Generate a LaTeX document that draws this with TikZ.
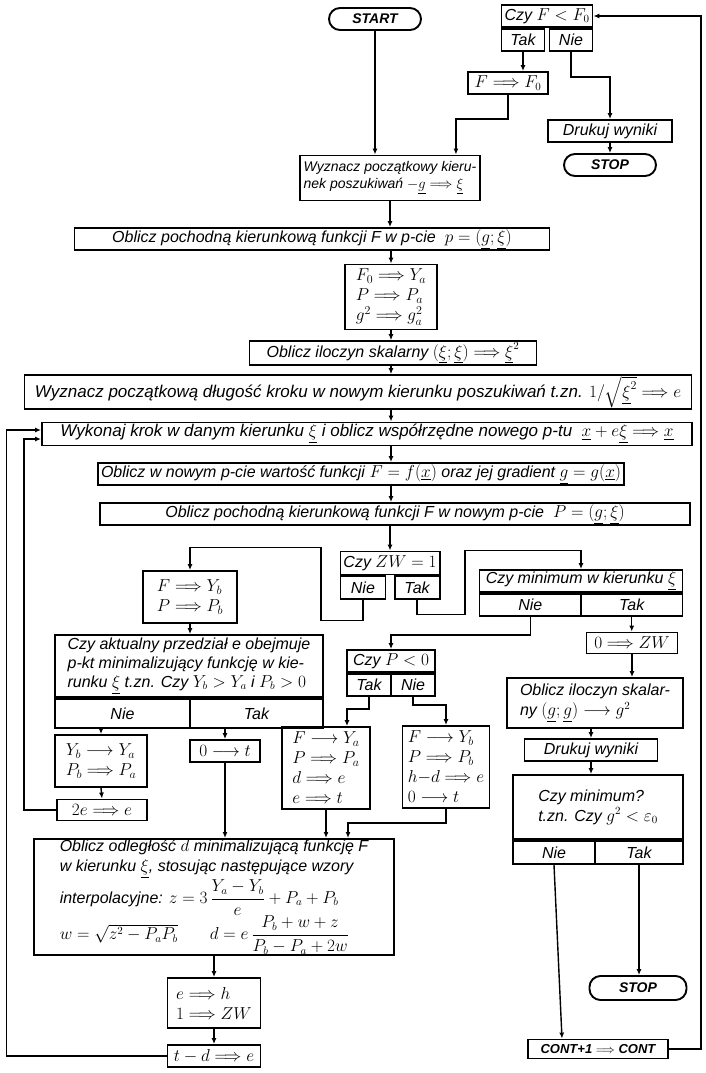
\documentclass[tikz,border=0pt]{standalone}
\usepackage{fontspec}
\setmainfont{Liberation Sans}
\usepackage{amsmath}
\usetikzlibrary{arrows.meta}

\begin{document}
\begin{tikzpicture}[x=1pt, y=-1pt,
    blok/.style={draw, line width=1.9pt, inner xsep=3pt, inner ysep=1pt, align=left,
        font=\itshape\fontsize{16}{18}\selectfont},
    kom/.style={blok, align=center},
    wiele/.style={blok, font=\itshape\fontsize{17}{20}\selectfont},
    term/.style={draw, line width=1.9pt, rounded corners=11pt, minimum height=22pt, inner sep=1pt,
        font=\itshape\bfseries\fontsize{14}{16}\selectfont},
    pol/.style={line width=1.4pt, -{Latex[length=6pt,width=5pt]}}]
    \useasboundingbox (0,0) rectangle (706,1073);

    % start i test F < F0
    \node[term, minimum width=92pt] (start) at (375,19) {START};
    \node[kom, minimum width=86pt, minimum height=22pt] (czyF) at (547,16) {Czy $F<F_0$};
    \node[kom, minimum width=43pt, minimum height=22pt, anchor=north west] (czyFtak) at (czyF.south west) {Tak};
    \node[kom, minimum width=43pt, minimum height=22pt, anchor=north east] (czyFnie) at (czyF.south east) {Nie};
    \node[blok, minimum width=80pt, minimum height=22pt] (ff0) at (508,83) {$F\Longrightarrow F_0$};
    \node[blok, minimum width=124pt, minimum height=22pt] (druk1) at (610,131) {Drukuj wyniki};
    \node[term, minimum width=92pt] (stop1) at (610,165) {STOP};

    % glowny pion
    \node[blok, minimum width=180pt, minimum height=45pt, font=\itshape\fontsize{14}{17}\selectfont] (wyzn1) at (390,178)
        {Wyznacz początkowy kieru-\\nek poszukiwań $-\underline{g}\Longrightarrow\underline{\xi}$};
    \node[blok, minimum width=475pt, minimum height=22pt] (obl1) at (312,239)
        {Oblicz pochodną kierunkową funkcji F w p-cie \ $p=(\underline{g};\underline{\xi})$};
    \node[wiele, minimum width=92pt, minimum height=65pt] (f0ya) at (391,297)
        {$F_0\Longrightarrow Y_a$\\$P\Longrightarrow P_a$\\$g^2\Longrightarrow g^2_a$};
    \node[blok, minimum width=287pt, minimum height=21pt] (ilo1) at (393,353)
        {Oblicz iloczyn skalarny $(\underline{\xi};\underline{\xi})\Longrightarrow\underline{\xi}^2$};
    \node[blok, minimum width=667pt, minimum height=22pt, font=\itshape\fontsize{17}{19}\selectfont] (wyzn2) at (358,392)
        {Wyznacz początkową długość kroku w nowym kierunku poszukiwań t.zn. $1/\sqrt{\underline{\xi}^2}\Longrightarrow e$};
    \node[blok, minimum width=650pt, minimum height=23pt, font=\itshape\fontsize{17}{19}\selectfont] (wyk) at (367,434)
        {Wykonaj krok w danym kierunku $\underline{\xi}$ i oblicz współrzędne nowego p-tu \ $\underline{x}+e\underline{\xi}\Longrightarrow\underline{x}$};
    \node[blok, minimum width=522pt, minimum height=22pt] (obl2) at (361,474)
        {Oblicz w nowym p-cie wartość funkcji $F=f(\underline{x})$ oraz jej gradient $\underline{g}=g(\underline{x})$};
    \node[blok, minimum width=590pt, minimum height=22pt] (obl3) at (395,514)
        {Oblicz pochodną kierunkową funkcji F w nowym p-cie \ $P=(\underline{g};\underline{\xi})$};

    % test ZW = 1
    \node[kom, minimum width=90pt, minimum height=23pt] (czyZW) at (390,563) {Czy $ZW=1$};
    \node[kom, minimum width=45pt, minimum height=23pt, anchor=north west] (czyZWnie) at (czyZW.south west) {Nie};
    \node[kom, minimum width=45pt, minimum height=23pt, anchor=north east] (czyZWtak) at (czyZW.south east) {Tak};
    \node[wiele, minimum width=94pt, minimum height=52pt] (fyb) at (190,597) {$F\Longrightarrow Y_b$\\$P\Longrightarrow P_b$};
    \node[kom, minimum width=203pt, minimum height=22pt] (czyMin) at (581,581) {Czy minimum w kierunku $\underline{\xi}$};
    \node[kom, minimum width=101.5pt, minimum height=22pt, anchor=north west] (czyMinnie) at (czyMin.south west) {Nie};
    \node[kom, minimum width=101.5pt, minimum height=22pt, anchor=north east] (czyMintak) at (czyMin.south east) {Tak};
    \node[blok, minimum width=91pt, minimum height=21pt] (zw0) at (632,643) {$0\Longrightarrow ZW$};

    % test przedzialu i test P < 0
    \node[blok, minimum width=268pt, minimum height=62pt, font=\itshape\fontsize{16}{19}\selectfont] (czyAkt) at (189,666)
        {Czy aktualny przedział e obejmuje\\p-kt minimalizujący funkcję w kie-\\runku $\underline{\xi}$ t.zn. Czy $Y_b>Y_a$ i $P_b>0$};
    \node[kom, minimum width=135pt, minimum height=29pt, anchor=north west] (czyAktnie) at (czyAkt.south west) {Nie};
    \node[kom, minimum width=133pt, minimum height=29pt, anchor=north east] (czyAkttak) at (czyAkt.south east) {Tak};
    \node[kom, minimum width=88pt, minimum height=22pt] (czyP) at (391,661) {Czy $P<0$};
    \node[kom, minimum width=44pt, minimum height=22pt, anchor=north west] (czyPtak) at (czyP.south west) {Tak};
    \node[kom, minimum width=44pt, minimum height=22pt, anchor=north east] (czyPnie) at (czyP.south east) {Nie};
    \node[wiele, minimum width=92pt, minimum height=52pt] (ybya) at (101,761) {$Y_b\longrightarrow Y_a$\\$P_b\Longrightarrow P_a$};
    \node[blok, minimum width=90pt, minimum height=21pt] (e2) at (102,810) {$2e\Longrightarrow e$};
    \node[blok, minimum width=70pt, minimum height=22pt] (t0) at (225,751) {$0\longrightarrow t$};
    \node[wiele, minimum width=88pt, minimum height=82pt] (fya) at (326,768)
        {$F\longrightarrow Y_a$\\$P\Longrightarrow P_a$\\$d\Longrightarrow e$\\$e\Longrightarrow t$};
    \node[wiele, minimum width=87pt, minimum height=82pt] (fyb2) at (446,767)
        {$F\longrightarrow Y_b$\\$P\Longrightarrow P_b$\\$h{-}d\Longrightarrow e$\\$0\longrightarrow t$};

    % interpolacja
    \node[blok, minimum width=360pt, minimum height=115pt, font=\itshape\fontsize{16}{20}\selectfont] (odl) at (214,897)
        {Oblicz odległość $d$ minimalizującą funkcję F\\w kierunku $\underline{\xi}$, stosując następujące wzory\\
         interpolacyjne: $z=3\,\dfrac{Y_a-Y_b}{e}+P_a+P_b$\\
         $w=\sqrt{z^2-P_aP_b}\qquad d=e\,\dfrac{P_b+w+z}{P_b-P_a+2w}$};
    \node[wiele, minimum width=93pt, minimum height=50pt] (eh) at (214,1003) {$e\Longrightarrow h$\\$1\Longrightarrow ZW$};
    \node[blok, minimum width=93pt, minimum height=22pt] (td) at (214,1056) {$t-d\Longrightarrow e$};

    % prawa kolumna
    \node[blok, minimum width=176pt, minimum height=50pt, font=\itshape\fontsize{16}{20}\selectfont] (ilo2) at (595,703)
        {Oblicz iloczyn skalar-\\ny $(\underline{g};\underline{g})\longrightarrow g^2$};
    \node[blok, minimum width=133pt, minimum height=22pt] (druk2) at (591,750) {Drukuj wyniki};
    \node[blok, minimum width=170pt, minimum height=64pt, font=\itshape\fontsize{16}{20}\selectfont] (czyMin2) at (598,807)
        {Czy minimum?\\t.zn. Czy $g^2<\varepsilon_0$};
    \node[kom, minimum width=82pt, minimum height=23pt, anchor=north west] (czyMin2nie) at (czyMin2.south west) {Nie};
    \node[kom, minimum width=88pt, minimum height=23pt, anchor=north east] (czyMin2tak) at (czyMin2.south east) {Tak};
    \node[term, minimum width=97pt, minimum height=24pt] (stop2) at (638,988) {STOP};
    \node[blok, minimum width=140pt, minimum height=19pt, font=\itshape\bfseries\fontsize{13}{15}\selectfont] (cont) at (598,1049)
        {CONT+1 $\Longrightarrow$ CONT};

    % polaczenia - gora
    \draw[pol] (start.south) -- (start.south |- wyzn1.north);
    \draw[pol] (czyFtak.south) -- (czyFtak.south |- ff0.north);
    \draw[pol] (czyFnie.south) -- ++(0,25) -| (druk1.north);
    \draw[pol] (druk1.south) -- (stop1.north);
    \draw[pol] (ff0.south) -- ++(0,24) -| ([xshift=-25pt]wyzn1.north east);
    \draw[pol] (wyzn1.south) -- (wyzn1.south |- obl1.north);
    \draw[pol] (obl1.south -| f0ya.north) -- (f0ya.north);
    \draw[pol] (f0ya.south) -- (f0ya.south |- ilo1.north);
    \draw[pol] (ilo1.south -| f0ya.south) -- (wyzn2.north -| f0ya.south);
    \draw[pol] (wyzn2.south -| f0ya.south) -- (wyk.north -| f0ya.south);
    \draw[pol] (wyk.south -| f0ya.south) -- (obl2.north -| f0ya.south);
    \draw[pol] (obl2.south -| f0ya.south) -- (obl3.north -| f0ya.south);
    \draw[pol] (obl3.south -| czyZW.north) -- (czyZW.north);

    % polaczenia - srodek
    \draw[pol] (czyZWnie.south) -- ++(0,20) -- ++(-42,0) -- ++(0,-73) -| (fyb.north);
    \draw[pol] (czyZWtak.south) -- ++(0,14) -- ++(48,0) -- ++(0,-64) -| (czyMin.north);
    \draw[pol] (czyMintak.south) -- (czyMintak.south |- zw0.north);
    \draw[pol] (czyMinnie.south) -- ++(0,18) -| (czyP.north);
    \draw[pol] (fyb.south) -- (fyb.south |- czyAkt.north);
    \draw[pol] (czyAktnie.south -| ybya.north) -- (ybya.north);
    \draw[pol] (czyAkttak.south -| t0.north) -- (t0.north);
    \draw[pol] (czyPtak.south) -- ++(0,12) -| ([xshift=21pt]fya.north);
    \draw[pol] (czyPnie.south) -- ++(0,8) -| (fyb2.north);
    \draw[pol] (ybya.south) -- (e2.north);
    \draw[pol] (e2.west) -- ++(-32,0) |- ([yshift=-5pt]wyk.west);
    \draw[pol] (t0.south) -- (t0.south |- odl.north);
    \draw[pol] (fya.south) -- (fya.south |- odl.north);
    \draw[pol] (fyb2.south) -- ++(0,14) -| ([xshift=134pt]odl.north);
    \draw[pol] (odl.south) -- (eh.north);
    \draw[pol] (eh.south) -- (td.north);
    \draw[pol] (td.west) -- ++(-160,0) |- ([yshift=4pt]wyk.west);

    % polaczenia - prawa kolumna
    \draw[pol] (zw0.south) -- (zw0.south |- ilo2.north);
    \draw[pol] (ilo2.south -| druk2.north) -- (druk2.north);
    \draw[pol] (druk2.south) -- (druk2.south |- czyMin2.north);
    \draw[pol] (czyMin2tak.south) -- (czyMin2tak.south |- stop2.north);
    \draw[pol] (czyMin2nie.south) -- ([xshift=-36pt]cont.north);
    \draw[pol] (cont.east) -- ++(32,0) |- (czyF.east);
\end{tikzpicture}
\end{document}
